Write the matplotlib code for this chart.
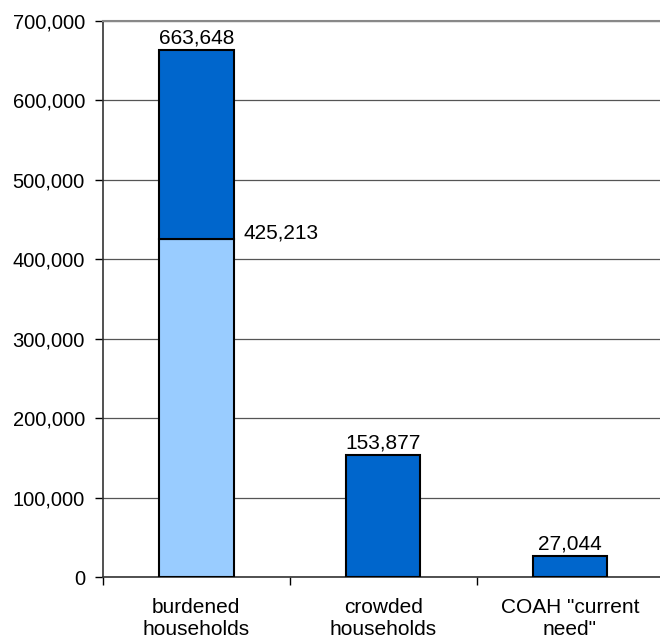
import matplotlib.pyplot as plt
import numpy as np

plt.rcParams['font.family'] = ['Liberation Sans', 'DejaVu Sans']

categories = ['burdened\nhouseholds', 'crowded\nhouseholds', 'COAH "current\nneed"']
base_vals = [425213, 0, 0]
top_vals = [663648 - 425213, 153877, 27044]
totals = [663648, 153877, 27044]

fig = plt.figure(figsize=(6.6, 6.43), dpi=100)
ax = fig.add_axes([0.156, 0.1026, 0.849, 0.865])

x = np.arange(len(categories))
w = 0.40
ax.bar(x, base_vals, w, color='#99CCFF', edgecolor='black', linewidth=1.5, zorder=3)
ax.bar(x, top_vals, w, bottom=base_vals, color='#0066CC', edgecolor='black', linewidth=1.5, zorder=3)

fs = 15
for i, t in enumerate(totals):
    ax.text(x[i], t + 2500, f'{t:,}', ha='center', va='bottom', fontsize=fs)
ax.text(x[0] + w / 2 + 0.05, base_vals[0] + 8000, f'{base_vals[0]:,}', ha='left', va='center', fontsize=fs)

ax.set_xlim(-0.5, 2.5)
ax.set_ylim(0, 700000)
ax.set_yticks(np.arange(0, 700001, 100000))
ax.set_yticklabels([f'{v:,}' for v in range(0, 700001, 100000)])
ax.set_xticks([-0.5, 0.5, 1.5, 2.5])
ax.set_xticklabels([])
ax.set_xticks(x, minor=True)
ax.set_xticklabels(categories, minor=True)
ax.tick_params(axis='x', which='minor', length=0, pad=15, labelsize=fs)
ax.tick_params(axis='x', which='major', length=6, width=1, direction='out')
ax.tick_params(axis='y', length=6, width=1, labelsize=14.5, pad=7)

ax.yaxis.grid(True, color='#555555', linewidth=0.9, zorder=0)
ax.spines['top'].set_color('#888888')
ax.spines['top'].set_linewidth(1.5)
ax.spines['right'].set_visible(False)
ax.spines['left'].set_color('#333333')
ax.spines['left'].set_linewidth(1.2)
ax.spines['bottom'].set_color('#333333')
ax.spines['bottom'].set_linewidth(1.2)

fig.savefig('out.png', dpi=100)
